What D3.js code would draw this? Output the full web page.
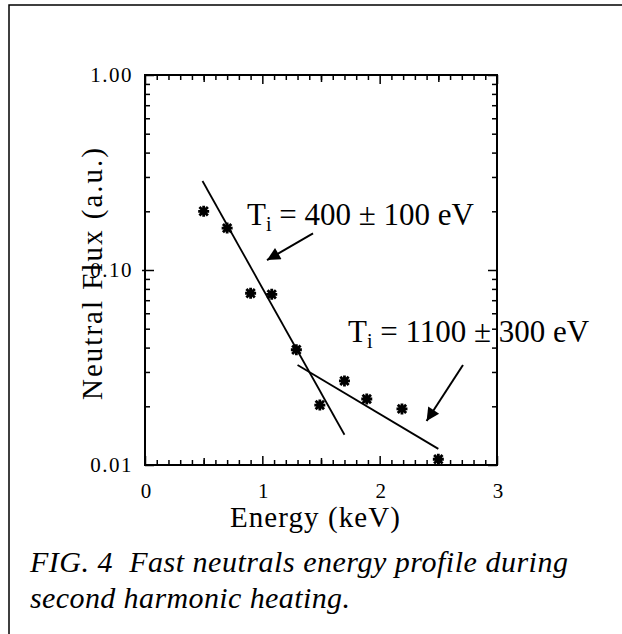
<!DOCTYPE html>
<html>
<head>
<meta charset="utf-8">
<script src="https://cdn.jsdelivr.net/npm/d3@7"></script>
<style>
  body { margin: 0; background: #fff; }
  svg text { font-family: "Liberation Serif", "Times New Roman", "DejaVu Serif", serif; fill: #000; white-space: pre; }
</style>
</head>
<body>
<div id="viz"></div>
<script>
// measured points (keV, a.u.)
const energy = [0.5, 0.7, 0.9, 1.08, 1.29, 1.49, 1.7, 1.89, 2.19, 2.5];
const flux = [0.20, 0.164, 0.076, 0.075, 0.039, 0.0203, 0.027, 0.0218, 0.0194, 0.0107];

// exponential fits, drawn as straight lines on the log axis
const fitLowE = [0.49, 1.70];
const fitLowF = [0.286, 0.0143];
const fitHighE = [1.30, 2.50];
const fitHighF = [0.0326, 0.0121];

const xTicks = [0, 1, 2, 3];
const yTicks = [0.01, 0.1, 1];
const yTickLabels = ["0.01", "0.10", "1.00"];

const W = 622, H = 634;
const svg = d3.select("#viz").append("svg")
  .attr("width", W)
  .attr("height", H)
  .attr("font-family", "'Liberation Serif', 'Times New Roman', serif");

// page frame (only top and left edges visible)
svg.append("path")
  .attr("d", `M9,${H} L9,5 L${W},5`)
  .attr("fill", "none")
  .attr("stroke", "#000")
  .attr("stroke-width", 1.5);

const x = d3.scaleLinear().domain([0, 3]).range([145, 497]);
const y = d3.scaleLog().domain([0.01, 1]).range([465, 75]);

const xMinor = d3.range(0, 31).map(d => d / 10).filter(d => d % 1 !== 0);
const xHalf = xMinor.filter(d => Math.abs(d * 10 % 10 - 5) < 1e-6);
const yMinor = [];
[0.01, 0.1].forEach(dec => {
  for (let k = 2; k <= 9; k++) yMinor.push(dec * k);
});

function ticks(axisFn, scale, values, size, pos) {
  const g = svg.append("g")
    .attr("transform", pos)
    .call(axisFn(scale).tickValues(values).tickSize(size).tickFormat(""));
  g.select(".domain").remove();
  g.selectAll("line").attr("stroke-width", 1.5);
  return g;
}

// bottom / top
ticks(d3.axisBottom, x, xMinor, -5, "translate(0,465)");
ticks(d3.axisBottom, x, xHalf, -7, "translate(0,465)");
ticks(d3.axisBottom, x, xTicks, -9, "translate(0,465)");
ticks(d3.axisTop, x, xMinor, -5, "translate(0,75)");
ticks(d3.axisTop, x, xHalf, -7, "translate(0,75)");
ticks(d3.axisTop, x, xTicks, -9, "translate(0,75)");
// left / right
ticks(d3.axisLeft, y, yMinor, -5, "translate(145,0)");
ticks(d3.axisLeft, y, yTicks, -9, "translate(145,0)");
ticks(d3.axisLeft, y, [0.1], 3, "translate(145,0)");
ticks(d3.axisRight, y, yMinor, -5, "translate(497,0)");
ticks(d3.axisRight, y, yTicks, -9, "translate(497,0)");

// plot box
svg.append("rect")
  .attr("x", x(0)).attr("y", y(1))
  .attr("width", x(3) - x(0)).attr("height", y(0.01) - y(1))
  .attr("fill", "none")
  .attr("stroke", "#000")
  .attr("stroke-width", 2);

// tick labels
svg.append("g").selectAll("text")
  .data(xTicks)
  .join("text")
  .attr("x", d => x(d) + 1)
  .attr("y", 498)
  .attr("text-anchor", "middle")
  .attr("font-size", 21)
  .text(d => d);

svg.append("g").selectAll("text")
  .data(yTicks)
  .join("text")
  .attr("x", 133)
  .attr("y", d => y(d) + 7)
  .attr("text-anchor", "end")
  .attr("font-size", 21)
  .attr("letter-spacing", 1.5)
  .text((d, i) => yTickLabels[i]);

// axis titles
svg.append("text")
  .attr("x", 230)
  .attr("y", 527)
  .attr("font-size", 29)
  .attr("textLength", 170)
  .attr("lengthAdjust", "spacing")
  .text("Energy (keV)");

svg.append("text")
  .attr("transform", `translate(102,400) rotate(-90)`)
  .attr("font-size", 29)
  .attr("textLength", 252)
  .attr("lengthAdjust", "spacing")
  .text("Neutral Flux (a.u.)");

// fits
const line = d3.line().x(d => x(d[0])).y(d => y(d[1]));
[[fitLowE, fitLowF], [fitHighE, fitHighF]].forEach(([es, fs]) => {
  svg.append("path")
    .datum(es.map((e, i) => [e, fs[i]]))
    .attr("d", line)
    .attr("fill", "none")
    .attr("stroke", "#000")
    .attr("stroke-width", 1.8);
});

// asterisk markers
const star = "M-5.5,0L5.5,0M0,-5.5L0,5.5M-4.2,-4.2L4.2,4.2M-4.2,4.2L4.2,-4.2";
svg.append("g").selectAll("path")
  .data(energy.map((e, i) => [e, flux[i]]))
  .join("path")
  .attr("transform", d => `translate(${x(d[0])},${y(d[1])})`)
  .attr("d", star)
  .attr("stroke", "#000")
  .attr("stroke-width", 2.8)
  .attr("fill", "none");

// annotations
svg.append("defs").append("marker")
  .attr("id", "head")
  .attr("viewBox", "0 0 10 10")
  .attr("refX", 10).attr("refY", 5)
  .attr("markerWidth", 16).attr("markerHeight", 13)
  .attr("markerUnits", "userSpaceOnUse")
  .attr("orient", "auto")
  .append("path")
  .attr("d", "M0,0L10,5L0,10Z")
  .attr("fill", "#000");

const arrows = [
  { from: [1.432, 0.154], to: [1.04, 0.1125] },
  { from: [2.71, 0.0326], to: [2.40, 0.0168] }
];
svg.append("g").selectAll("line")
  .data(arrows)
  .join("line")
  .attr("x1", d => x(d.from[0])).attr("y1", d => y(d.from[1]))
  .attr("x2", d => x(d.to[0])).attr("y2", d => y(d.to[1]))
  .attr("stroke", "#000")
  .attr("stroke-width", 2)
  .attr("marker-end", "url(#head)");

const labels = [
  { at: [0.87, 0.170], rest: " = 400 \u00b1 100 eV" },
  { at: [1.73, 0.0427], rest: " = 1100 \u00b1 300 eV" }
];
labels.forEach(l => {
  const t = svg.append("text")
    .attr("x", x(l.at[0]))
    .attr("y", y(l.at[1]))
    .attr("font-size", 31);
  t.append("tspan").text("T");
  t.append("tspan").attr("font-size", 20).attr("dy", 6).text("i");
  t.append("tspan").attr("dy", -6).text(l.rest);
});

// caption
const caption = svg.append("text")
  .attr("font-size", 30)
  .attr("font-style", "italic");
caption.append("tspan").attr("x", 30).attr("y", 572)
  .attr("textLength", 538).attr("lengthAdjust", "spacing")
  .text("FIG. 4  Fast neutrals energy profile during");
caption.append("tspan").attr("x", 30).attr("y", 608)
  .attr("textLength", 320).attr("lengthAdjust", "spacing")
  .text("second harmonic heating.");
</script>
</body>
</html>
